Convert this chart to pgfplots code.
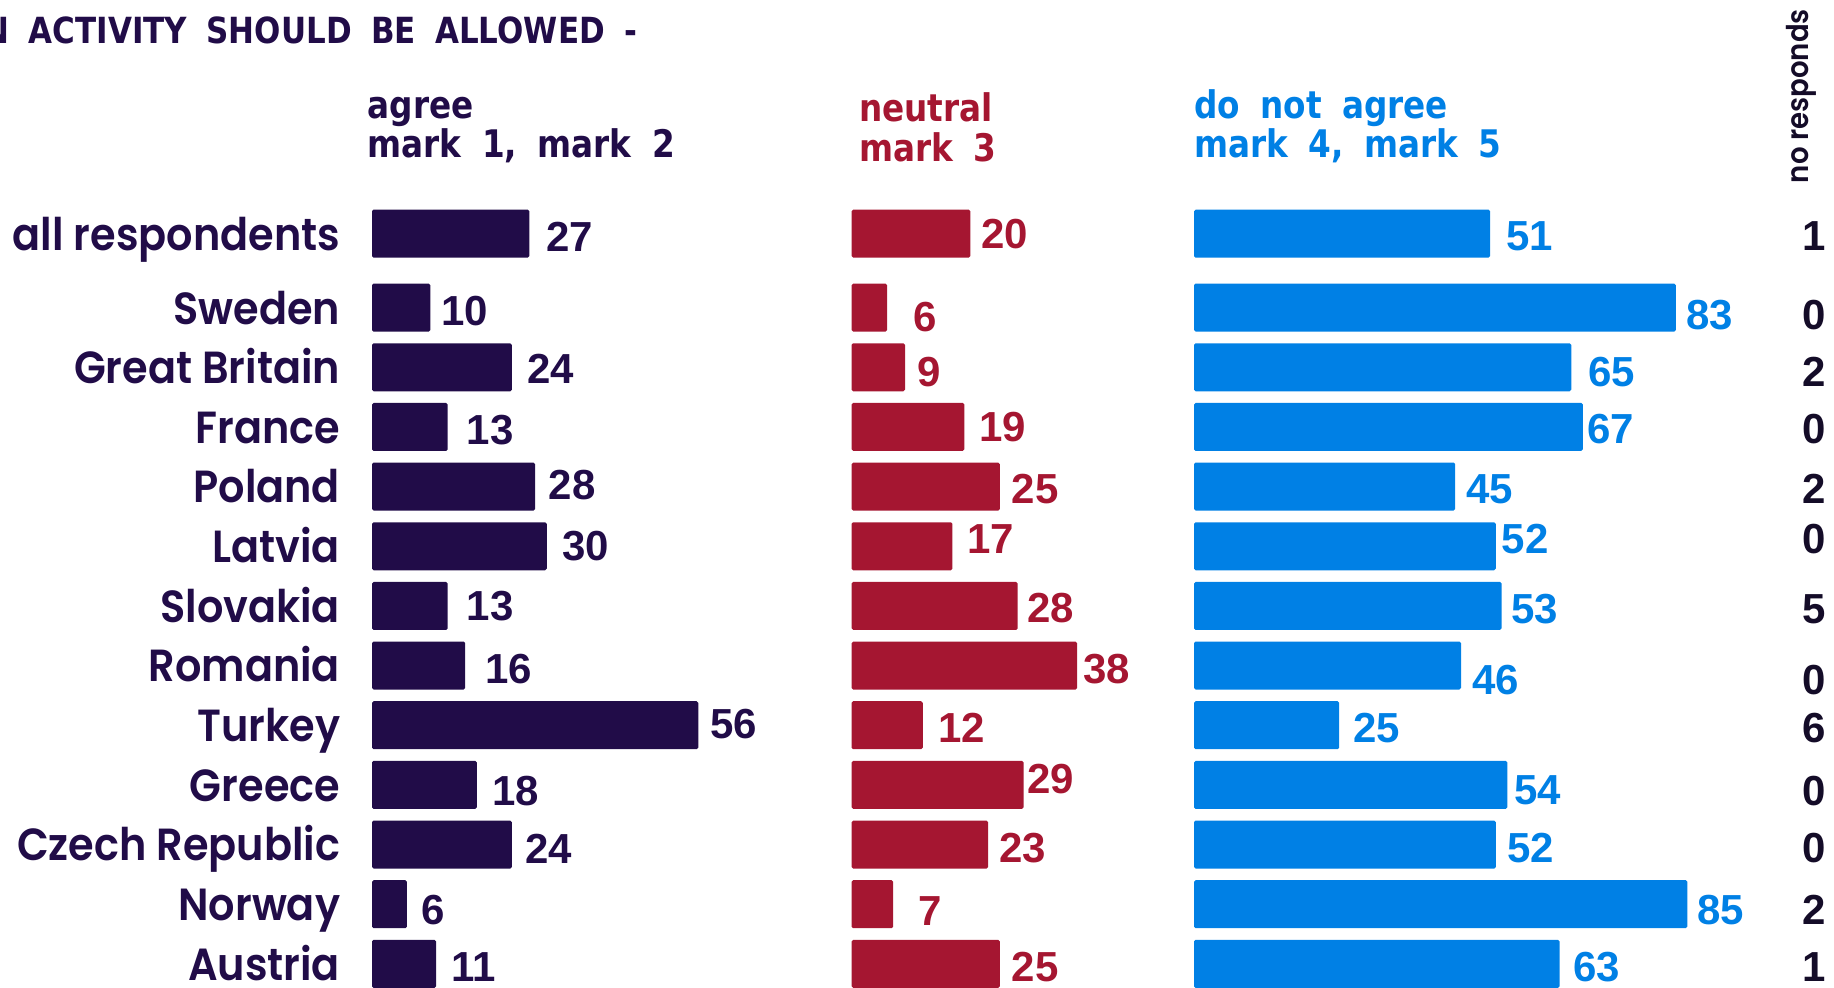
\documentclass[border=0pt]{standalone}
\usepackage{pgfplots}
\pgfplotsset{compat=1.18}
\usepackage{pgfplotstable}
\usepackage{fontspec}
\newfontfamily\labfont{Poppins SemiBold}[FakeStretch=0.92]
\newfontfamily\numfont{Liberation Sans}
\newfontfamily\headfont{DejaVu Sans Bold}[FakeStretch=0.86, WordSpace=1.8]
\definecolor{agreec}{RGB}{33,12,72}
\definecolor{neutc}{RGB}{165,22,49}
\definecolor{disc}{RGB}{0,128,229}
\definecolor{darkc}{RGB}{20,12,40}

\pgfplotstableread{
y     agree adx ady  neut ndx  ndy  dis ddx ddy  nr
-0.24 27    8.3 -1.8 20   5.4  0.0  51  8.0 -1.2 1
1     10    5.2 -1.8 6    13.0 -4.7 83  5.2 -3.5 0
2     24    7.7 -0.6 9    5.9  -2.3 65  8.3 -2.3 2
3     13    9.3 -1.8 19   7.2  0.0  67  2.0 -1.2 0
4     28    6.6 0.6  25   5.8  -1.2 45  5.5 -1.2 2
5     30    7.7 0.0  17   7.3  3.5  52  2.8 3.5  0
6     13    9.3 0.0  28   4.5  -1.2 53  4.5 -1.8 5
7     16    9.9 -1.8 38   2.9  -1.8 46  5.5 -7.0 0
8     56    5.7 0.6  12   7.5  -1.2 25  6.8 -1.2 6
9     18    7.6 -2.9 29   1.5  2.9  54  3.4 -2.9 0
10    24    6.5 -2.3 23   5.3  -1.8 52  5.7 -1.8 0
11    6     6.9 -2.9 7    12.4 -3.5 85  4.7 -2.9 2
12    11    7.5 -1.8 25   5.8  -1.8 63  6.5 -1.8 1
}\datatable

\pgfplotsset{
  grp/.style={
    scale only axis, height=493.5pt, y dir=reverse,
    ymin=-4.156, ymax=12.388, xmin=0, xmax=100,
    axis line style={draw=none}, tick style={draw=none},
    xtick=\empty, clip=false, anchor=south west,
    /pgf/number format/assume math mode=true,
    xbar, bar width=24pt,
  },
}

\begin{document}
\begin{tikzpicture}
\path[use as bounding box] (0,0) rectangle (917pt,493.5pt);

% agree
\begin{axis}[grp, at={(186pt,0pt)}, width=291.3pt,
  ytick={-0.24,1,2,3,4,5,6,7,8,9,10,11,12},
  yticklabels={all respondents,Sweden,Great Britain,France,Poland,Latvia,Slovakia,Romania,Turkey,Greece,Czech Republic,Norway,Austria},
  yticklabel style={font=\labfont\fontsize{22.5}{26}\selectfont, text=agreec, anchor=base east, inner sep=0pt, xshift=-11.5pt, yshift=-8.2pt},
]
\addplot[fill=agreec, draw=none, rounded corners=0.8pt,
  point meta=x,
  visualization depends on={\thisrow{adx} \as \dx},
  visualization depends on={\thisrow{ady} \as \dy},
  nodes near coords,
  every node near coord/.append style={font=\numfont\bfseries\fontsize{21}{25}\selectfont, text=agreec, anchor=west, inner sep=0pt, xshift=\dx pt, yshift=\dy pt}]
  table[x=agree, y=y] {\datatable};
\end{axis}

% neutral
\begin{axis}[grp, at={(425.8pt,0pt)}, width=296.6pt, ytick=\empty]
\addplot[fill=neutc, draw=none, rounded corners=0.8pt,
  point meta=x,
  visualization depends on={\thisrow{ndx} \as \dx},
  visualization depends on={\thisrow{ndy} \as \dy},
  nodes near coords,
  every node near coord/.append style={font=\numfont\bfseries\fontsize{21}{25}\selectfont, text=neutc, anchor=west, inner sep=0pt, xshift=\dx pt, yshift=\dy pt}]
  table[x=neut, y=y] {\datatable};
\end{axis}

% do not agree
\begin{axis}[grp, at={(597pt,0pt)}, width=290.2pt, ytick=\empty]
\addplot[fill=disc, draw=none, rounded corners=0.8pt,
  point meta=x,
  visualization depends on={\thisrow{ddx} \as \dx},
  visualization depends on={\thisrow{ddy} \as \dy},
  nodes near coords,
  every node near coord/.append style={font=\numfont\bfseries\fontsize{21}{25}\selectfont, text=disc, anchor=west, inner sep=0pt, xshift=\dx pt, yshift=\dy pt}]
  table[x=dis, y=y] {\datatable};
\end{axis}

% no responds
\begin{axis}[scale only axis, height=493.5pt, y dir=reverse,
    ymin=-4.156, ymax=12.388, xmin=-1, xmax=1, width=10pt,
    axis line style={draw=none}, tick style={draw=none},
    xtick=\empty, ytick=\empty, clip=false, anchor=south west,
    at={(902pt,0pt)}, /pgf/number format/assume math mode=true]
\addplot[only marks, mark=*, mark size=0pt, mark options={draw=none, fill=none},
  point meta=\thisrow{nr},
  visualization depends on={\thisrow{ddy} \as \dy},
  nodes near coords,
  every node near coord/.append style={font=\numfont\bfseries\fontsize{21}{25}\selectfont, text=darkc, anchor=center, inner sep=0pt, yshift=\dy pt}]
  table[x expr=0, y=y] {\datatable};
\end{axis}

% titles
\node[anchor=base west, inner sep=0pt, text=agreec, font=\headfont\fontsize{18}{22}\selectfont] at (-8.4pt,471.9pt) {N ACTIVITY SHOULD BE ALLOWED -};
\node[anchor=base west, inner sep=0pt, text=agreec, font=\headfont\fontsize{19}{22}\selectfont] at (183.6pt,434.4pt) {agree};
\node[anchor=base west, inner sep=0pt, text=agreec, font=\headfont\fontsize{19}{22}\selectfont] at (183.6pt,414.5pt) {mark 1, mark 2};
\node[anchor=base west, inner sep=0pt, text=neutc, font=\headfont\fontsize{19}{22}\selectfont] at (429.3pt,432.7pt) {neutral};
\node[anchor=base west, inner sep=0pt, text=neutc, font=\headfont\fontsize{19}{22}\selectfont] at (429.3pt,412.8pt) {mark 3};
\node[anchor=base west, inner sep=0pt, text=disc, font=\headfont\fontsize{19}{22}\selectfont] at (596.8pt,434.4pt) {do not agree};
\node[anchor=base west, inner sep=0pt, text=disc, font=\headfont\fontsize{19}{22}\selectfont] at (596.8pt,414.5pt) {mark 4, mark 5};
\node[anchor=west, rotate=90, inner sep=0pt, text=darkc, font=\labfont\fontsize{15}{18}\selectfont] at (900.8pt,401.7pt) {no responds};
\end{tikzpicture}
\end{document}
